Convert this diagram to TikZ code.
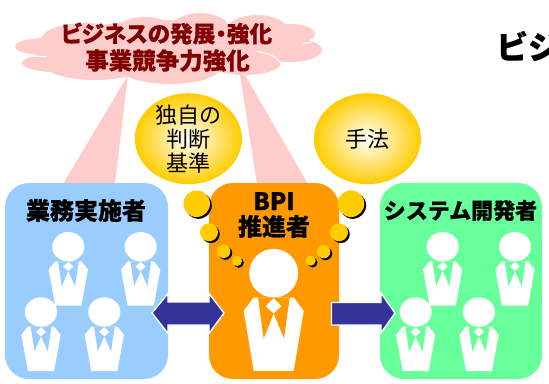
\documentclass[tikz,border=0pt]{standalone}
\usepackage{fontspec}
\newfontfamily\jpfont[BoldFeatures={FakeBold=0.5}]{Noto Sans CJK JP}
\newfontfamily\jpnarrow[RawFeature=+palt,BoldFeatures={FakeBold=0.5}]{Noto Sans CJK JP}
\usetikzlibrary{positioning}

\definecolor{cloudpink}{HTML}{FFCCCC}
\definecolor{cloudtext}{HTML}{800000}
\definecolor{panelblue}{HTML}{99CCFF}
\definecolor{panelorange}{HTML}{FF9900}
\definecolor{panelgreen}{HTML}{66FF99}
\definecolor{bubbleyellow}{HTML}{FFCC00}
\definecolor{arrowblue}{HTML}{333399}

\tikzset{
  panel/.style={rectangle,rounded corners=24pt,minimum width=#1,minimum height=196pt,inner sep=0pt},
  label/.style={inner sep=0pt,align=center,font=\jpfont\bfseries\fontsize{24}{25.5}\selectfont},
  thought/.style={inner sep=0pt,align=center,font=\jpfont\fontsize{22}{24}\selectfont},
  blockarrow/.style={fill=arrowblue,draw=white,line width=1.4pt,miter limit=10},
  smallman/.style={xscale=0.655,yscale=0.604},
  person/.pic={
    \fill[white] (0,0) ellipse [x radius=24.5,y radius=24.3];
    \fill[white] (-30,37.7) -- (-20,24.3) -- (20,24.3) -- (30,37.7) -- (20,97.7) -- (-20,97.7) -- cycle;
    \fill[pic actions] (-15.7,24.3) -- (16,24.3) -- (10.3,65.3) -- (0,40.3) -- (-10,65.3) -- cycle;
    \fill[white] (0,25) -- (7.7,33) -- (0,40.3) -- (-8,33) -- cycle;
  }
}

\begin{document}
\begin{tikzpicture}
[x=1pt,y=-1pt,%
  every node/.style={inner sep=0pt}]
\useasboundingbox (0,0) rectangle (549,383);
\clip (0,0) rectangle (549,383);

% rays under the cloud
\fill[cloudpink] (128,75) -- (115,184) -- (63,184) -- cycle;
\fill[cloudpink] (240,75) -- (245,75) -- (308,184) -- (257,184) -- cycle;

% cloud
\fill[cloudpink]
  (45,46.5) ellipse [x radius=30,y radius=8.5]
  (55,63) ellipse [x radius=33,y radius=9]
  (85,40) ellipse [x radius=44,y radius=17]
  (145,32) ellipse [x radius=30,y radius=15]
  (200,30) ellipse [x radius=30,y radius=17]
  (257,32) ellipse [x radius=32,y radius=17]
  (290,34) ellipse [x radius=25,y radius=10]
  (290,50) ellipse [x radius=32,y radius=12]
  (95,65) ellipse [x radius=50,y radius=15]
  (170,68) ellipse [x radius=50,y radius=16]
  (245,64) ellipse [x radius=35,y radius=11]
  (165,48) ellipse [x radius=110,y radius=28];
\draw[white,line width=1pt] (22,56.5) -- (47,56.5);
\draw[white,line width=1pt] (257,51.5) .. controls (268,53) and (275,56) .. (280,62);
\draw[white,line width=1pt] (303,43.5) .. controls (310,43) and (316,41) .. (322,38);
\node[label,text=cloudtext,font=\jpnarrow\bfseries\fontsize{22.7}{25}\selectfont] (goal1) at (166.5,33.5) {ビジネスの発展・強化};
\node[label,text=cloudtext,font=\jpfont\bfseries\fontsize{23.5}{25}\selectfont] (goal2) at (167.5,60.5) {事業競争力強化};

% heading, runs off the page
\node[label,anchor=west,font=\jpfont\bfseries\fontsize{32}{34}\selectfont] (heading) at (496,46) {ビジ};

% the two ideas
\shade[inner color=white,outer color=bubbleyellow] (188.3,138.7) ellipse [x radius=53.5,y radius=45.5];
\shade[inner color=white,outer color=bubbleyellow] (367.5,138.7) ellipse [x radius=53.5,y radius=45.5];
\node[thought] (criteria) at (188.3,139) {独自の\\判断\\基準};
\node[thought] (method) at (367.5,139) {手法};

% the three panels
\node[panel=163pt,fill=panelblue] (workers) at (86.5,281) {};
\node[panel=130pt,fill=panelorange] (promoter) at (274,281) {};
\node[panel=162pt,fill=panelgreen] (developers) at (461,281) {};

\node[label] (workerstext) at (86,210.5) {業務実施者};
\node[label] (promotertext) at (274,215) {BPI\\推進者};
\node[label,font=\jpfont\bfseries\fontsize{22}{24}\selectfont] (developerstext) at (460.5,210.5) {システム開発者};

% thought bubbles
\foreach \x/\y/\r in {196.7/203.7/13.3,209/232.3/9,223.7/251.3/6.7,237/261/5,%
  351/203.7/13.3,339/232.3/9,323.7/251.7/6.7,310.7/260.7/5}{
  \fill[black] (\x+1.8,\y+1.8) circle [radius=\r];
  \fill[bubbleyellow] (\x,\y) circle [radius=\r];
}

% people
\foreach \x/\y in {68.3/246.7,140.7/246.7,41/312,104.3/312}
  \pic[smallman,fill=panelblue] at (\x,\y) {person};
\foreach \x/\y in {442.7/246.7,515/246.7,415.7/312,479/312}
  \pic[smallman,fill=panelgreen] at (\x,\y) {person};
\pic[fill=panelorange] at (273.7,273.2) {person};

% block arrows
\draw[blockarrow] (152,313) -- (168,293.5) -- (168,302) -- (209,302) -- (209,293.5)
  -- (224,313) -- (209,333.5) -- (209,325) -- (168,325) -- (168,333.5) -- cycle;
\draw[blockarrow] (331.5,302.5) -- (381,302.5) -- (381,293) -- (395,313) -- (381,333)
  -- (381,325) -- (331.5,325) -- cycle;
\end{tikzpicture}
\end{document}
